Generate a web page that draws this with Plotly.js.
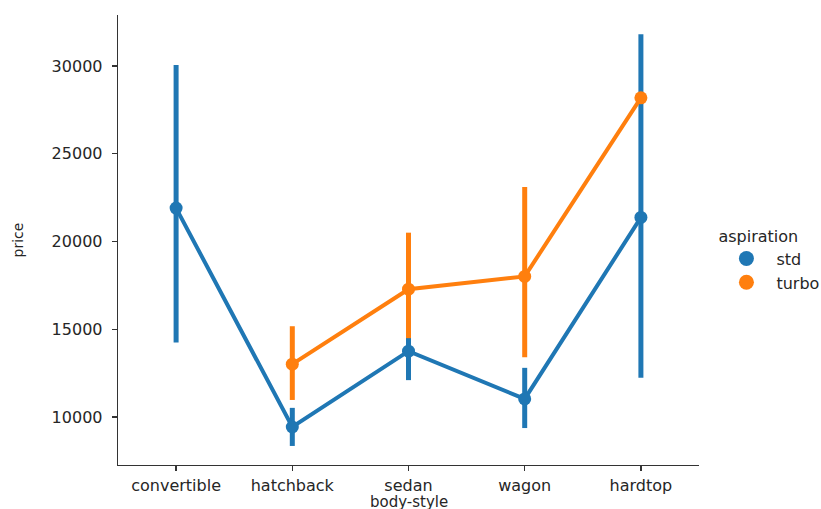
<!DOCTYPE html>
<html>
<head>
<meta charset="utf-8">
<script src="https://cdn.plot.ly/plotly-3.0.1.min.js"></script>
<style>html,body{margin:0;padding:0;background:#fff;}#chart{width:821px;height:509px;}</style>
</head>
<body>
<div id="chart"></div>
<script>
var categories = ['convertible', 'hatchback', 'sedan', 'wagon', 'hardtop'];

var stdMean  = [21900, 9430, 13750, 11030, 21370];
var stdLow   = [14250, 8350, 12100, 9370, 12230];
var stdHigh  = [30050, 10520, 15800, 12800, 31800];

var turboMean = [null, 13010, 17280, 18010, 28180];
var turboLow  = [null, 10970, 14490, 13400, 28180];
var turboHigh = [null, 15170, 20500, 23100, 28180];

var seriesNames = ['std', 'turbo'];
var colors = ['#1f77b4', '#ff7f0e'];
var xTitle = 'body-style';
var yTitle = 'price';
var legendTitle = 'aspiration';

function plus(m, h) { return m.map(function (v, i) { return v == null ? null : h[i] - v; }); }
function minus(m, l) { return m.map(function (v, i) { return v == null ? null : v - l[i]; }); }

function mainTrace(mean, lo, hi, color) {
  return {
    x: categories, y: mean, type: 'scatter', mode: 'lines+markers',
    line: {color: color, width: 4},
    marker: {color: color, size: 13},
    error_y: {type: 'data', symmetric: false, array: plus(mean, hi), arrayminus: minus(mean, lo),
              color: color, thickness: 5, width: 0},
    showlegend: false, hoverinfo: 'skip'
  };
}
function legendTrace(name, color) {
  return {x: [null], y: [null], type: 'scatter', mode: 'markers', name: name,
          marker: {color: color, size: 15}, showlegend: true};
}

var data = [
  mainTrace(stdMean, stdLow, stdHigh, colors[0]),
  mainTrace(turboMean, turboLow, turboHigh, colors[1]),
  legendTrace(seriesNames[0], colors[0]),
  legendTrace(seriesNames[1], colors[1])
];

var font = {family: 'DejaVu Sans', size: 16, color: '#262626'};
var layout = {
  width: 821, height: 509,
  margin: {l: 118, r: 122, t: 15, b: 44, autoexpand: false},
  paper_bgcolor: '#fff', plot_bgcolor: '#fff',
  font: font,
  xaxis: {
    type: 'category', range: [-0.5, 4.5],
    showgrid: false, zeroline: false,
    showline: true, linecolor: '#333', linewidth: 1.3,
    ticks: 'outside', ticklen: 5, tickcolor: '#333', tickwidth: 1.3,
    tickfont: font
  },
  yaxis: {
    range: [7265, 32900],
    automargin: true,
    tickvals: [10000, 15000, 20000, 25000, 30000],
    ticktext: ['10000', '15000', '20000', '25000', '30000'],
    showgrid: false, zeroline: false,
    showline: true, linecolor: '#333', linewidth: 1.3,
    ticks: 'outside', ticklen: 5, tickcolor: '#333', tickwidth: 1.3,
    ticklabelstandoff: 6,
    tickfont: font,
    title: {text: yTitle, font: {family: 'DejaVu Sans', size: 14, color: '#262626'}, standoff: 24}
  },
  annotations: [{
    text: xTitle, xref: 'paper', yref: 'paper', x: 0.5, y: -0.059,
    xanchor: 'center', yanchor: 'top', showarrow: false,
    font: {family: 'DejaVu Sans', size: 15, color: '#262626'}, borderpad: 0
  }],
  legend: {
    x: 1.03, xanchor: 'left', y: 0.455, yanchor: 'middle',
    title: {text: legendTitle, font: font},
    font: font, bgcolor: 'rgba(0,0,0,0)', itemwidth: 50, tracegroupgap: 0
  },
  showlegend: true
};

Plotly.newPlot('chart', data, layout, {displayModeBar: false, staticPlot: true});
</script>
</body>
</html>
